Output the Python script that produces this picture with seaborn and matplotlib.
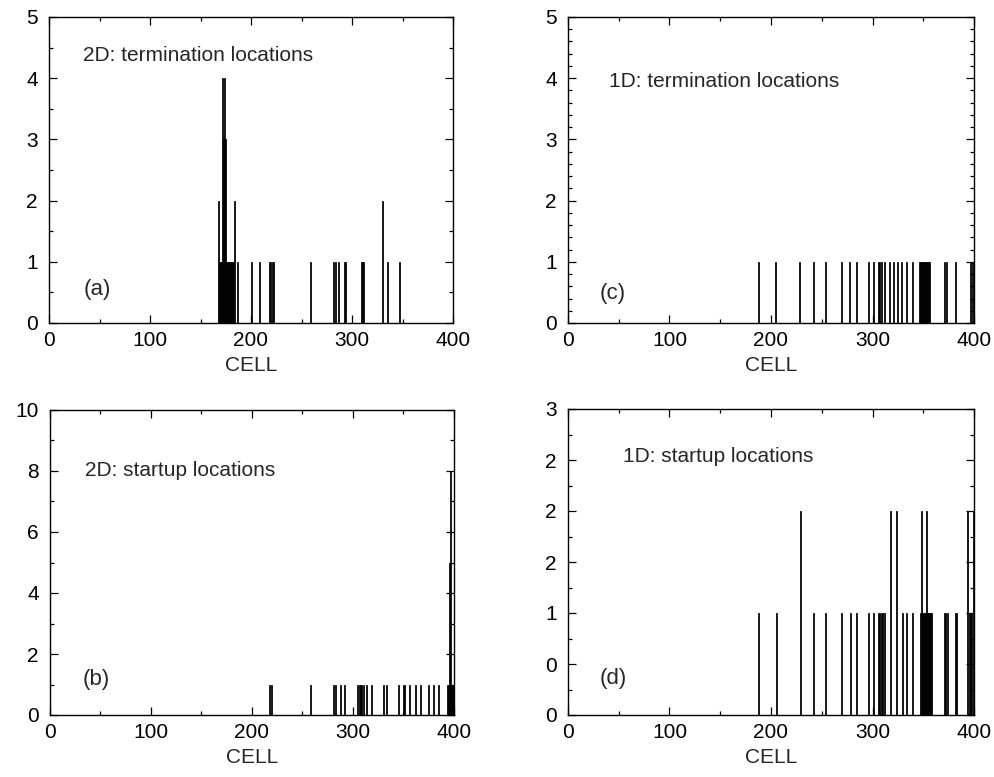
import numpy as np
import pandas as pd
import matplotlib
matplotlib.use("Agg")
import matplotlib.pyplot as plt
from matplotlib.ticker import MultipleLocator, FormatStrFormatter
import seaborn as sns

# ---------------- data (cell index -> count) ----------------
cells_a = [167, 168, 169, 170, 171, 172, 173, 174, 175, 176, 177, 178, 179, 180, 181, 182, 183,
           186, 200, 208, 218, 219, 221, 222, 258, 281, 283, 286, 292, 293,
           309, 310, 311, 330, 335, 347]
counts_a = [2, 1, 1, 1, 4, 3, 4, 3, 1, 1, 1, 1, 1, 1, 1, 1, 2,
            1, 1, 1, 1, 1, 1, 1, 1, 1, 1, 1, 1, 1,
            1, 1, 1, 2, 1, 1]

cells_b = [217, 219, 257, 280, 282, 287, 291, 304, 306, 307, 308, 310, 313, 318, 330, 333,
           345, 350, 355, 361, 366, 374, 379, 384, 393, 394, 395, 396, 397, 398, 399]
counts_b = [1, 1, 1, 1, 1, 1, 1, 1, 1, 1, 1, 1, 1, 1, 1, 1,
            1, 1, 1, 1, 1, 1, 1, 1, 1, 1, 5, 8, 1, 1, 1]

cells_c = [187, 204, 228, 241, 253, 269, 277, 284, 296, 300, 305, 306, 308, 311, 316, 320,
           324, 328, 333, 339, 346, 347, 348, 349, 350, 351, 352, 353, 354, 355, 356,
           370, 372, 381, 396, 398]
counts_c = [1] * len(cells_c)

cells_d = [187, 205, 229, 241, 253, 269, 278, 284, 296, 300, 305, 306, 308, 309, 311, 317,
           323, 329, 333, 339, 347, 348, 349, 350, 351, 352, 353, 354, 355, 356, 357, 358,
           370, 371, 373, 381, 382, 393, 395, 396, 397, 399]
counts_d = [1, 1, 2, 1, 1, 1, 1, 1, 1, 1, 1, 1, 1, 1, 1, 2,
            2, 1, 1, 1, 1, 2, 1, 1, 1, 1, 2, 1, 1, 1, 1, 1,
            1, 1, 1, 1, 1, 2, 1, 1, 1, 2]

titles = ["2D: termination locations", "2D: startup locations",
          "1D: termination locations", "1D: startup locations"]
tags = ["(a)", "(b)", "(c)", "(d)"]
xlabel = "CELL"

# ---------------- style ----------------
sns.set_style("ticks")
plt.rcParams["font.family"] = ["Liberation Sans", "DejaVu Sans"]
plt.rcParams["xtick.direction"] = "in"
plt.rcParams["ytick.direction"] = "in"

fig = plt.figure(figsize=(9.95, 7.77), dpi=100)
W, H = 995.0, 777.0

def ax_at(l, r, t, b):
    return fig.add_axes([l / W, 1 - b / H, (r - l) / W, (b - t) / H])

panels = [
    dict(cells=cells_a, counts=counts_a, box=(49, 453, 17, 323), ylim=5, major=1, minor=0.5,
         fmt="%d", tpos=(0.085, 0.873), gpos=(0.085, 0.108)),
    dict(cells=cells_b, counts=counts_b, box=(50, 454, 410, 715), ylim=10, major=2, minor=1,
         fmt="%d", tpos=(0.087, 0.80), gpos=(0.08, 0.115)),
    dict(cells=cells_c, counts=counts_c, box=(568, 974, 17, 323), ylim=5, major=1, minor=0.2,
         fmt="%d", tpos=(0.10, 0.79), gpos=(0.079, 0.098)),
    dict(cells=cells_d, counts=counts_d, box=(568, 974, 409, 715), ylim=3, major=0.5, minor=0.25,
         fmt="%.0f", tpos=(0.135, 0.844), gpos=(0.079, 0.12)),
]

fs = 15
for i, p in enumerate(panels):
    ax = ax_at(*p["box"])
    df = pd.DataFrame({"cell": p["cells"], "count": p["counts"]})
    sns.histplot(data=df, x="cell", weights="count", binwidth=1, binrange=(0, 400),
                 color="black", edgecolor="black", linewidth=0.55, alpha=1,
                 element="bars", fill=True, ax=ax)
    ax.set_xlim(0, 400)
    ax.set_ylim(0, p["ylim"])
    ax.xaxis.set_major_locator(MultipleLocator(100))
    ax.xaxis.set_minor_locator(MultipleLocator(50))
    ax.yaxis.set_major_locator(MultipleLocator(p["major"]))
    ax.yaxis.set_minor_locator(MultipleLocator(p["minor"]))
    ax.yaxis.set_major_formatter(FormatStrFormatter(p["fmt"]))
    ax.tick_params(which="both", direction="in", top=True, right=True,
                   labelsize=fs, colors="black", width=0.9)
    ax.tick_params(which="major", length=6)
    ax.tick_params(which="minor", length=3)
    ax.tick_params(axis="x", pad=6)
    ax.tick_params(axis="y", pad=8)
    for s in ax.spines.values():
        s.set_visible(True)
        s.set_linewidth(1.0)
        s.set_color("black")
    ax.set_ylabel("")
    ax.set_xlabel(xlabel, fontsize=fs, labelpad=4)
    ax.text(p["tpos"][0], p["tpos"][1], titles[i], transform=ax.transAxes,
            fontsize=fs, ha="left", va="center")
    ax.text(p["gpos"][0], p["gpos"][1], tags[i], transform=ax.transAxes,
            fontsize=fs + 1, ha="left", va="center")

fig.savefig("out.png", dpi=100, facecolor="white")
